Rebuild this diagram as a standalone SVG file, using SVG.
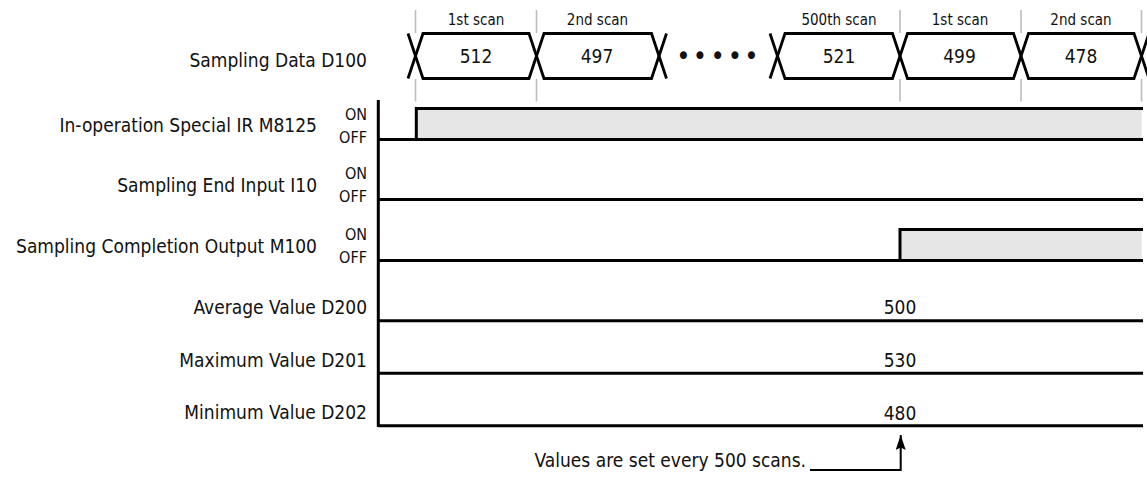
<svg xmlns="http://www.w3.org/2000/svg" width="1147" height="479" viewBox="0 0 1147 479">
<style>
  text { font-family: 'DejaVu Sans Condensed', 'DejaVu Sans', sans-serif; font-stretch: condensed; fill: #111; }
  .lbl { font-size: 19px; text-anchor: end; }
  .st { font-size: 16px; text-anchor: end; }
  .sc { font-size: 15px; text-anchor: middle; }
  .val { font-size: 19px; text-anchor: middle; }
  .dots { font-size: 27px; text-anchor: middle; }
  .ln { stroke: #000; stroke-width: 3; fill: none; }
  .bus { stroke: #000; stroke-width: 2.8; fill: none; stroke-linejoin: miter; }
  .grid { stroke: #bdbdbd; stroke-width: 1.6; fill: none; }
  .hi { fill: #e6e6e6; stroke: none; }
  .conn { stroke: #000; stroke-width: 2; fill: none; }
</style>
<defs>
  <marker id="arr" markerWidth="16" markerHeight="10" refX="15" refY="5" orient="auto" markerUnits="userSpaceOnUse" viewBox="0 0 16 10">
    <path d="M15,5 L0,0 L2.5,5 L0,10 Z" fill="#000"/>
  </marker>
</defs>

<g id="scan-markers">
  <path class="grid" d="M415.5,10 V33 M415.5,79 V101.5 M536.5,10 V33 M536.5,79 V101.5 M900,10 V33 M900,79 V101.5 M1021,10 V33 M1021,79 V101.5 M1141.5,10 V33 M1141.5,79 V101.5"/>
  <text class="sc" x="476" y="25">1st scan</text>
  <text class="sc" x="597.5" y="25">2nd scan</text>
  <text class="sc" x="839" y="25">500th scan</text>
  <text class="sc" x="960" y="25">1st scan</text>
  <text class="sc" x="1081" y="25">2nd scan</text>
</g>

<g id="axis">
  <path class="ln" d="M378.3,100 V427"/>
</g>

<g id="row-d100">
  <text class="lbl" x="367" y="66.5">Sampling Data D100</text>
  <path class="bus" d="M408,78.5 L423,33.5 H529 L544,78.5 H651.5 L666.5,33.5"/>
  <path class="bus" d="M408,33.5 L423,78.5 H529 L544,33.5 H651.5 L666.5,78.5"/>
  <path class="bus" d="M770,78.5 L785,33.5 H892.5 L907.5,78.5 H1013.5 L1028.5,33.5 H1134 L1149,78.5"/>
  <path class="bus" d="M770,33.5 L785,78.5 H892.5 L907.5,33.5 H1013.5 L1028.5,78.5 H1134 L1149,33.5"/>
  <text class="val" x="476" y="63">512</text>
  <text class="val" x="597" y="63">497</text>
  <text class="dots" x="683.3 700 717.7 735 751.5" y="65">•••••</text>
  <text class="val" x="839" y="63">521</text>
  <text class="val" x="959.5" y="63">499</text>
  <text class="val" x="1081" y="63">478</text>
</g>

<g id="row-m8125">
  <text class="lbl" x="317" y="131.5">In-operation Special IR M8125</text>
  <text class="st" x="367" y="120">ON</text>
  <text class="st" x="367" y="143">OFF</text>
  <rect class="hi" x="416" y="108.5" width="725.7" height="31"/>
  <path class="ln" d="M378.3,139.5 H1143 M416.3,139.5 V108.5 M414.8,108.5 H1143"/>
</g>

<g id="row-i10">
  <text class="lbl" x="317" y="192">Sampling End Input I10</text>
  <text class="st" x="367" y="179">ON</text>
  <text class="st" x="367" y="202">OFF</text>
  <path class="ln" d="M378.3,199.5 H1143"/>
</g>

<g id="row-m100">
  <text class="lbl" x="317" y="253">Sampling Completion Output M100</text>
  <text class="st" x="367" y="240">ON</text>
  <text class="st" x="367" y="263">OFF</text>
  <rect class="hi" x="900" y="229.5" width="241.7" height="31"/>
  <path class="ln" d="M378.3,260.5 H1143 M900,260.5 V229.5 M898.5,229.5 H1143"/>
</g>

<g id="row-d200">
  <text class="lbl" x="367" y="314">Average Value D200</text>
  <text class="val" x="900" y="314">500</text>
  <path class="ln" d="M378.3,320.7 H1143"/>
</g>

<g id="row-d201">
  <text class="lbl" x="367" y="366.7">Maximum Value D201</text>
  <text class="val" x="900" y="366.7">530</text>
  <path class="ln" d="M378.3,373.3 H1143"/>
</g>

<g id="row-d202">
  <text class="lbl" x="367" y="419.3">Minimum Value D202</text>
  <text class="val" x="900" y="419.5">480</text>
  <path class="ln" d="M378.3,425.7 H1143"/>
</g>

<g id="note">
  <text class="lbl" x="806" y="467">Values are set every 500 scans.</text>
</g>

<g id="connectors">
  <path class="conn" d="M810,470 H900.7 V435" marker-end="url(#arr)"/>
</g>
</svg>
